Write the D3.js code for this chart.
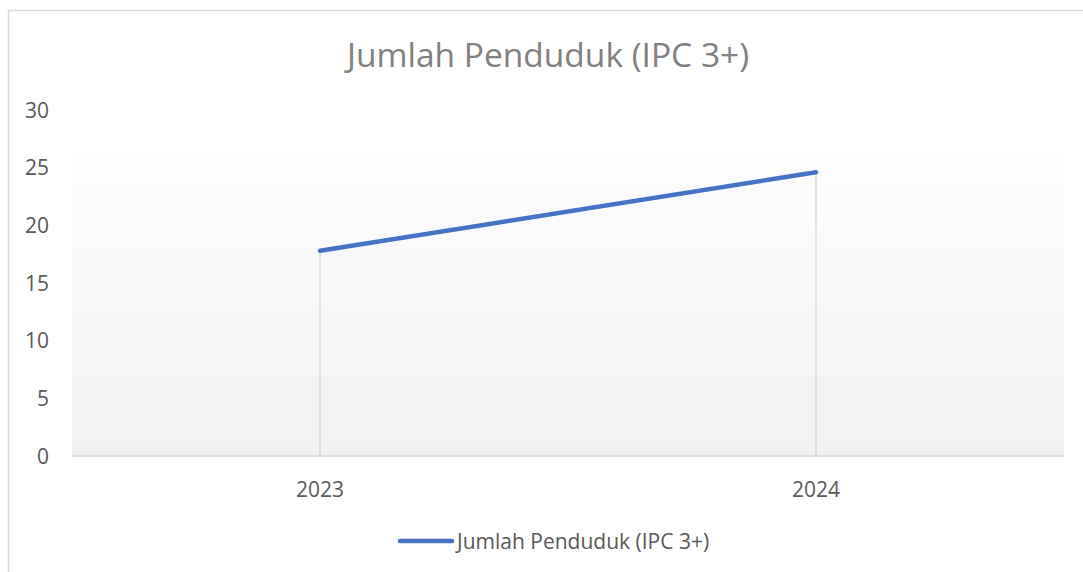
<!DOCTYPE html>
<html><head><meta charset="utf-8">
<script src="https://cdn.jsdelivr.net/npm/d3@7"></script>
<style>body{margin:0;background:#fff}svg{display:block}text{font-family:"Open Sans",Lato,sans-serif}</style>
</head><body>
<script>
const categories = ["2023", "2024"];
const values = [17.8, 24.6];
const yTicks = [0, 5, 10, 15, 20, 25, 30];
const seriesName = "Jumlah Penduduk (IPC 3+)";
const title = "Jumlah Penduduk (IPC 3+)";

const W = 1083, H = 572;
const svg = d3.select("body").append("svg").attr("width", W).attr("height", H);

// chart border
svg.append("rect").attr("x", 8.5).attr("y", 10.5).attr("width", 1200).attr("height", 700)
  .attr("fill", "#fff").attr("stroke", "#d9d9d9").attr("stroke-width", 1.5);

const x = d3.scaleBand().domain(categories).range([72, 1064]).padding(0);
const y = d3.scaleLinear().domain([0, 30]).range([456, 110]);

const defs = svg.append("defs");
const grad = defs.append("linearGradient").attr("id", "pg").attr("x1", 0).attr("y1", 0).attr("x2", 0).attr("y2", 1);
grad.append("stop").attr("offset", 0).attr("stop-color", "#fdfdfd");
grad.append("stop").attr("offset", 1).attr("stop-color", "#f1f1f1");

svg.append("rect").attr("x", 72).attr("y", y(26.3)).attr("width", 1064 - 72).attr("height", y(0) - y(26.3))
  .attr("fill", "url(#pg)");

// y labels
svg.append("g").selectAll("text").data(yTicks).join("text")
  .attr("x", 49).attr("y", d => y(d)).attr("dy", "0.36em").attr("text-anchor", "end")
  .attr("fill", "#595959").attr("font-size", 21).text(d => d);

// drop lines
svg.append("g").selectAll("line").data(values).join("line")
  .attr("x1", (d, i) => x(categories[i]) + x.bandwidth() / 2)
  .attr("x2", (d, i) => x(categories[i]) + x.bandwidth() / 2)
  .attr("y1", d => y(d)).attr("y2", y(0))
  .attr("stroke", "#d9d9d9").attr("stroke-width", 1.5);

// baseline
svg.append("line").attr("x1", 72).attr("x2", 1064).attr("y1", y(0)).attr("y2", y(0))
  .attr("stroke", "#d9d9d9").attr("stroke-width", 1.5);

// x labels
svg.append("g").selectAll("text").data(categories).join("text")
  .attr("x", d => x(d) + x.bandwidth() / 2).attr("y", 489).attr("dy", "0.36em")
  .attr("text-anchor", "middle").attr("fill", "#595959").attr("font-size", 21).text(d => d);

// line
const line = d3.line().x((d, i) => x(categories[i]) + x.bandwidth() / 2).y(d => y(d));
svg.append("path").datum(values).attr("d", line).attr("fill", "none")
  .attr("stroke", "#4472c4").attr("stroke-width", 4.5).attr("stroke-linecap", "round");

// title
svg.append("text").attr("x", 548).attr("y", 55).attr("dy", "0.36em").attr("text-anchor", "middle")
  .attr("fill", "#808080").attr("font-size", 33.5).text(title);

// legend
svg.append("line").attr("x1", 400).attr("x2", 452).attr("y1", 541).attr("y2", 541)
  .attr("stroke", "#4472c4").attr("stroke-width", 4.5).attr("stroke-linecap", "round");
svg.append("text").attr("x", 457).attr("y", 541).attr("dy", "0.36em")
  .attr("fill", "#595959").attr("font-size", 21).text(seriesName);
</script>
</body></html>
